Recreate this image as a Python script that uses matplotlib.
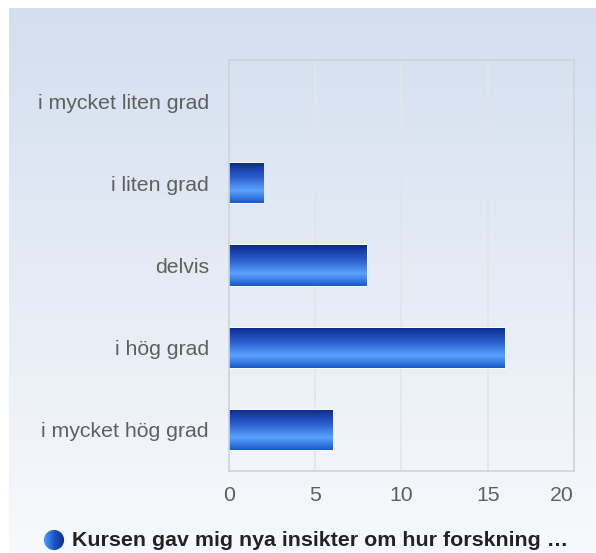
import numpy as np
import matplotlib
matplotlib.use('Agg')
import matplotlib.pyplot as plt
from matplotlib.colors import LinearSegmentedColormap
from matplotlib.patches import Circle

categories = ['i mycket hög grad', 'i hög grad', 'delvis', 'i liten grad', 'i mycket liten grad']
values = [6, 16, 8, 2, 0]
xticks = [0, 5, 10, 15, 20]
legend_text = 'Kursen gav mig nya insikter om hur forskning \u2026'

plt.rcParams['font.family'] = ['Liberation Sans', 'DejaVu Sans']

fig = plt.figure(figsize=(5.96, 5.53), dpi=100)
fig.patch.set_facecolor('white')

# background gradient panel
bg = fig.add_axes([9/596, 0, 1 - 9/596, 1 - 8/553], zorder=0)
bg_cmap = LinearSegmentedColormap.from_list('bg', ['#d3dfef', '#f8f9fc'])
bg.imshow(np.linspace(0, 1, 256).reshape(-1, 1), aspect='auto', cmap=bg_cmap,
          extent=[0, 1, 0, 1])
bg.set_axis_off()

ax = fig.add_axes([229/596, 1 - 471/553, (574-229)/596, (471-60)/553], zorder=1)
ax.patch.set_alpha(0)

bar_cmap = LinearSegmentedColormap.from_list(
    'bar', [(0, '#1a58c8'), (0.3, '#5aa2ff'), (0.65, '#2a5ccc'), (1, '#0a2a8c')])
grad = np.linspace(0, 1, 128).reshape(-1, 1)

y = np.arange(len(categories))
bars = ax.barh(y, values, height=0.49, color='#2a5ccc', edgecolor='white', linewidth=1.2, zorder=2)
for b in bars:
    if b.get_width() <= 0:
        continue
    x0, y0 = b.get_x(), b.get_y()
    im = ax.imshow(grad, aspect='auto', cmap=bar_cmap, origin='lower',
                   extent=[x0, x0 + b.get_width(), y0, y0 + b.get_height()], zorder=2.5)
    im.set_clip_path(b)

ax.set_xlim(0, 20)
ax.set_ylim(-0.5, len(categories) - 0.5)
ax.set_xticks(xticks)
ax.set_xticklabels([str(t) for t in xticks])
ax.get_xticklabels()[-1].set_horizontalalignment('right')
ax.set_yticks(y)
ax.set_yticklabels(categories)
ax.tick_params(axis='both', length=0, labelcolor='#5f5f5f', labelsize=15.3)
ax.tick_params(axis='y', pad=14.5)
ax.tick_params(axis='x', pad=11)
for lbl in ax.get_yticklabels():
    lbl.set_va('center_baseline')
ax.xaxis.grid(True, color='#e2e5ea', linewidth=1.2, zorder=0)
ax.set_axisbelow(True)
for s in ax.spines.values():
    s.set_color('#cfd3da')
    s.set_linewidth(1.2)

# legend
cx, cy, r = 54/596, 1 - 540/553, 10.5/596
lg = fig.add_axes([cx - r, cy - r * 596/553, 2 * r, 2 * r * 596/553], zorder=2)
circ = Circle((0.5, 0.5), 0.48, transform=lg.transAxes, facecolor='none', edgecolor='none')
lg.add_patch(circ)
lim = lg.imshow(np.linspace(0, 1, 64).reshape(1, -1), aspect='auto',
                cmap=LinearSegmentedColormap.from_list('lg', ['#5aa2ff', '#1a58c8', '#0a2a8c']),
                extent=[0, 1, 0, 1])
lim.set_clip_path(circ)
lg.set_xlim(0, 1)
lg.set_ylim(0, 1)
lg.set_axis_off()
fig.text(72/596, cy, legend_text, fontsize=15.4, fontweight='bold', color='#222222',
         va='center', ha='left')

plt.savefig('out.png', dpi=100)
